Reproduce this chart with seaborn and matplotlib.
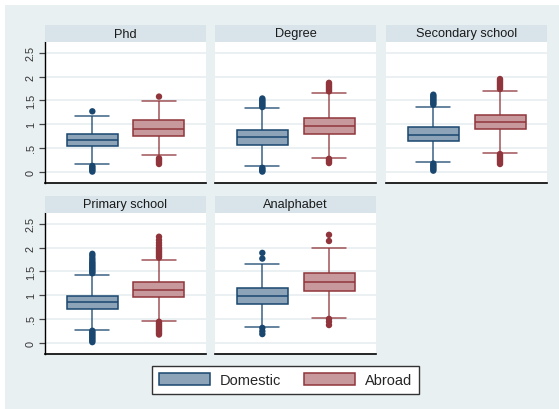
import numpy as np
import pandas as pd
import seaborn as sns
import matplotlib
matplotlib.use("Agg")
import matplotlib.pyplot as plt
from matplotlib.patches import Rectangle, Patch

sns.set_style("white")
plt.rcParams['font.family'] = ['Liberation Sans', 'DejaVu Sans']

# ---------------- data ----------------
panels = ["Phd", "Degree", "Secondary school", "Primary school", "Analphabet"]
groups = ["Domestic", "Abroad"]

# Domestic box statistics per panel
dom_lo = [0.155, 0.11, 0.20, 0.26, 0.32]
dom_q1 = [0.535, 0.556, 0.64, 0.70, 0.82]
dom_med = [0.66, 0.72, 0.78, 0.85, 0.985]
dom_q3 = [0.80, 0.87, 0.93, 0.99, 1.155]
dom_hi = [1.18, 1.33, 1.37, 1.43, 1.655]

# Abroad box statistics per panel
abr_lo = [0.345, 0.29, 0.40, 0.465, 0.52]
abr_q1 = [0.76, 0.79, 0.89, 0.96, 1.09]
abr_med = [0.90, 0.965, 1.04, 1.11, 1.27]
abr_q3 = [1.08, 1.13, 1.20, 1.28, 1.46]
abr_hi = [1.49, 1.655, 1.70, 1.75, 2.00]

# Outside values
dom_out = [
    [1.27, 0.12, 0.09, 0.06, 0.03, 0.0],
    [1.36, 1.39, 1.42, 1.45, 1.48, 1.51, 1.54, 0.08, 0.05, 0.02, 0.0],
    [1.41, 1.44, 1.47, 1.50, 1.53, 1.56, 1.59, 1.62,
     0.17, 0.14, 0.11, 0.08, 0.05, 0.02],
    [1.46, 1.49, 1.52, 1.55, 1.58, 1.61, 1.64, 1.67, 1.70, 1.74, 1.78, 1.83, 1.87,
     0.25, 0.22, 0.19, 0.16, 0.13, 0.10, 0.07, 0.04, 0.01],
    [1.77, 1.89, 0.31, 0.24, 0.18],
]
abr_out = [
    [1.58, 0.28, 0.25, 0.22, 0.19, 0.16],
    [1.69, 1.72, 1.75, 1.78, 1.81, 1.84, 1.87, 0.27, 0.24, 0.21, 0.18],
    [1.74, 1.77, 1.80, 1.83, 1.86, 1.89, 1.92, 1.95,
     0.37, 0.34, 0.31, 0.28, 0.25, 0.22, 0.19, 0.16],
    [1.79, 1.82, 1.85, 1.88, 1.91, 1.94, 1.97, 2.00, 2.05, 2.10, 2.16, 2.23,
     0.44, 0.41, 0.38, 0.35, 0.32, 0.29, 0.26, 0.23, 0.20, 0.17],
    [2.14, 2.27, 0.50, 0.44, 0.37],
]

yticks = [0, 0.5, 1, 1.5, 2, 2.5]
ytick_labels = ["0", ".5", "1", "1.5", "2", "2.5"]

# ---------------- style ----------------
edge = {"Domestic": "#1A476F", "Abroad": "#90353B"}
fill = {"Domestic": "#8DA3B8", "Abroad": "#C8999C"}
BG = "#E9F0F2"
HEAD = "#D8E4EA"
GRID = "#E9F0F2"

W, H = 559, 410
fig = plt.figure(figsize=(W / 100, H / 100), dpi=100)
fig.patch.set_facecolor("white")
fig.patches.append(Rectangle((5 / W, 0), 554 / W, 404 / H,
                             transform=fig.transFigure, facecolor=BG,
                             edgecolor="none", zorder=-10))

col_left = [45, 215, 386]
row_top = [43, 214]
pw, ph = 161, 141
head_h = 17

rows = []
for p in range(len(panels)):
    for g, (lo, q1, md, q3, hi) in zip(groups, [
            (dom_lo, dom_q1, dom_med, dom_q3, dom_hi),
            (abr_lo, abr_q1, abr_med, abr_q3, abr_hi)]):
        for v in (lo[p], q1[p], md[p], q3[p], hi[p]):
            rows.append((panels[p], g, v))
box_df = pd.DataFrame(rows, columns=["panel", "group", "value"])

orows = []
for p in range(len(panels)):
    for v in dom_out[p]:
        orows.append((panels[p], "Domestic", v))
    for v in abr_out[p]:
        orows.append((panels[p], "Abroad", v))
out_df = pd.DataFrame(orows, columns=["panel", "group", "value"])

for i, name in enumerate(panels):
    r, c = divmod(i, 3)
    x0 = col_left[c]
    top = row_top[r]
    ax = fig.add_axes([x0 / W, 1 - (top + ph) / H, pw / W, ph / H])
    ax.set_facecolor("white")
    for y in yticks:
        ax.axhline(y, color=GRID, lw=1.3, zorder=0)

    sub = box_df[box_df.panel == name]
    for g in groups:
        d = sub[sub.group == g]
        sns.boxplot(data=d, x="group", y="value", order=groups,
                    color=fill[g], linecolor=edge[g], saturation=1,
                    width=0.765, whis=np.inf, showfliers=False,
                    linewidth=1.1, capwidths=0.51, ax=ax,
                    medianprops=dict(color=edge[g], linewidth=1.1),
                    whiskerprops=dict(color=edge[g], linewidth=1.1, alpha=0.85),
                    capprops=dict(color=edge[g], linewidth=1.1, alpha=0.85),
                    boxprops=dict(facecolor=fill[g], edgecolor=edge[g], linewidth=1.1))
    osub = out_df[out_df.panel == name]
    sns.stripplot(data=osub, x="group", y="value", hue="group", order=groups,
                  hue_order=groups, palette=edge, jitter=False, size=4.6,
                  linewidth=0, legend=False, ax=ax, zorder=3)

    ax.set_xlim(-0.71, 1.705)
    ax.set_ylim(-0.24, 2.73)
    ax.set_xlabel("")
    ax.set_ylabel("")
    ax.set_xticks([])
    for s in ["top", "right"]:
        ax.spines[s].set_visible(False)
    ax.spines["bottom"].set_color("black")
    ax.spines["bottom"].set_linewidth(1.2)
    if c == 0:
        ax.spines["left"].set_color("black")
        ax.spines["left"].set_linewidth(1.0)
        ax.set_yticks(yticks)
        ax.set_yticklabels(ytick_labels, rotation=90, va="center",
                           fontsize=7.8, color="#333333")
        ax.tick_params(axis="y", direction="out", length=4, width=0.9,
                       color="#444444", pad=2.5, left=True)
    else:
        ax.spines["left"].set_visible(False)
        ax.set_yticks([])

    hax = fig.add_axes([x0 / W, 1 - top / H, pw / W, head_h / H])
    hax.set_facecolor(HEAD)
    hax.set_xticks([])
    hax.set_yticks([])
    for s in hax.spines.values():
        s.set_visible(False)
    hax.text(0.5, 0.5, name, ha="center", va="center", fontsize=9.2,
             color="#1a1a1a", transform=hax.transAxes)

handles = [Patch(facecolor=fill[g], edgecolor=edge[g], linewidth=1.1) for g in groups]
leg = fig.legend(handles, groups, loc="center", ncol=2,
                 bbox_to_anchor=(285.5 / W, 1 - 381 / H), frameon=True,
                 fancybox=False, edgecolor="#333333", framealpha=1,
                 fontsize=10.5, handlelength=3.5, handleheight=0.95,
                 handletextpad=0.65, columnspacing=1.6, borderpad=0.45)
leg.get_frame().set_linewidth(1.0)

fig.savefig("out.png", dpi=100, facecolor=fig.get_facecolor())
